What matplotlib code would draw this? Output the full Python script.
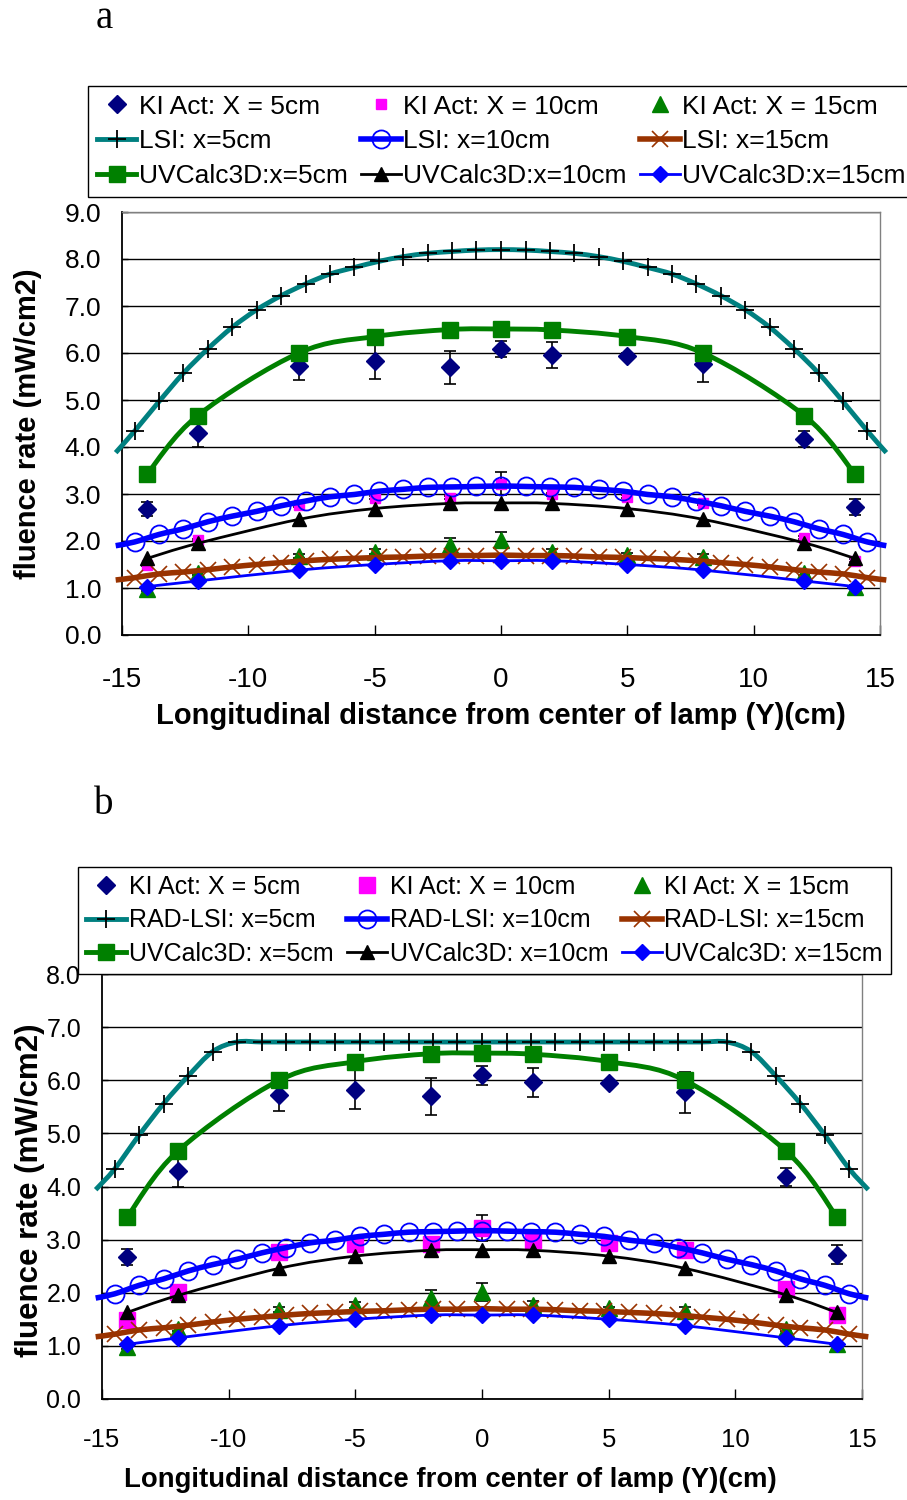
import matplotlib
matplotlib.use("Agg")
import matplotlib.pyplot as plt
from matplotlib.path import Path
from matplotlib.patches import PathPatch
from matplotlib.lines import Line2D
import numpy as np

plt.rcParams['font.family'] = ['Liberation Sans', 'DejaVu Sans']

# ---- data ----
# measured points (KI actinometry)
x_meas = [-14, -12, -8, -5, -2, 0, 2, 5, 8, 12, 14]
ki5 = [2.68, 4.30, 5.72, 5.82, 5.70, 6.09, 5.96, 5.94, 5.77, 4.18, 2.72]
ki5_err = [0.15, 0.30, 0.29, 0.37, 0.35, 0.17, 0.28, 0.05, 0.38, 0.17, 0.17]
ki10 = [1.49, 2.02, 2.76, 2.92, 2.92, 3.22, 2.99, 2.94, 2.80, 2.07, 1.58]
ki10_err = [0.03, 0.03, 0.03, 0.03, 0.03, 0.25, 0.03, 0.03, 0.03, 0.03, 0.03]
ki15 = [0.97, 1.31, 1.68, 1.77, 1.91, 2.02, 1.77, 1.71, 1.66, 1.31, 1.03]
ki15_err = [0.03, 0.03, 0.05, 0.05, 0.15, 0.17, 0.07, 0.03, 0.07, 0.03, 0.03]

# UVCalc3D model
uv5 = [3.43, 4.67, 6.00, 6.35, 6.50, 6.51, 6.49, 6.35, 6.00, 4.67, 3.43]
uv10 = [1.63, 1.95, 2.46, 2.69, 2.80, 2.81, 2.80, 2.69, 2.46, 1.96, 1.63]
uv15 = [1.03, 1.15, 1.38, 1.50, 1.58, 1.58, 1.58, 1.50, 1.38, 1.15, 1.03]

# LSI model: 31 marked points from -14.5 to 14.5 plus line ends at +-15.25
x_lsi = [-15.25, -14.5, -13.53, -12.57, -11.6, -10.63, -9.67, -8.7, -7.73, -6.77,
         -5.8, -4.83, -3.87, -2.9, -1.93, -0.97, 0.0, 0.97, 1.93, 2.9, 3.87,
         4.83, 5.8, 6.77, 7.73, 8.7, 9.67, 10.63, 11.6, 12.57, 13.53, 14.5, 15.25]
lsi5 = [3.88, 4.34, 4.97, 5.57, 6.09, 6.55, 6.92, 7.22, 7.47, 7.68, 7.82, 7.95, 8.05,
        8.12, 8.16, 8.19, 8.20, 8.19, 8.16, 8.12, 8.05, 7.95, 7.82, 7.68, 7.47,
        7.22, 6.92, 6.55, 6.09, 5.57, 4.97, 4.34, 3.88]
lsi10 = [1.90, 1.98, 2.14, 2.26, 2.41, 2.53, 2.63, 2.75, 2.85, 2.94, 2.99, 3.06, 3.10,
         3.14, 3.15, 3.16, 3.17, 3.16, 3.15, 3.14, 3.10, 3.06, 2.99, 2.94, 2.85,
         2.75, 2.63, 2.53, 2.41, 2.26, 2.14, 1.98, 1.90]
lsi15 = [1.17, 1.22, 1.30, 1.34, 1.39, 1.45, 1.50, 1.54, 1.58, 1.61, 1.63, 1.65, 1.66,
         1.68, 1.69, 1.69, 1.70, 1.69, 1.69, 1.68, 1.66, 1.65, 1.63, 1.61, 1.58,
         1.54, 1.50, 1.45, 1.39, 1.34, 1.30, 1.22, 1.17]
radlsi5 = [3.94, 4.33, 4.97, 5.56, 6.08, 6.54, 6.72, 6.72, 6.72, 6.72, 6.72, 6.72, 6.72,
           6.72, 6.72, 6.72, 6.72, 6.72, 6.72, 6.72, 6.72, 6.72, 6.72, 6.72, 6.72,
           6.72, 6.72, 6.54, 6.08, 5.56, 4.97, 4.33, 3.94]

xticks = [-15, -10, -5, 0, 5, 10, 15]


def smooth_path(x, y):
    # excel-like smoothed line (bezier through the points)
    n = len(x)
    verts = [(x[0], y[0])]
    codes = [Path.MOVETO]
    for i in range(n - 1):
        xa, ya = (x[i - 1], y[i - 1]) if i > 0 else (x[i], y[i])
        xb, yb = (x[i + 2], y[i + 2]) if i + 2 < n else (x[i + 1], y[i + 1])
        c1 = (x[i] + (x[i + 1] - xa) / 6.0, y[i] + (y[i + 1] - ya) / 6.0)
        c2 = (x[i + 1] - (xb - x[i]) / 6.0, y[i + 1] - (yb - y[i]) / 6.0)
        verts += [c1, c2, (x[i + 1], y[i + 1])]
        codes += [Path.CURVE4] * 3
    return Path(verts, codes)


def model(ax, x, y, color, lw, marker, mkw, z, ends=False):
    ax.add_patch(PathPatch(smooth_path(x, y), fill=False, edgecolor=color, lw=lw,
                           clip_on=False, zorder=z, capstyle='butt'))
    if ends:
        x, y = x[1:-1], y[1:-1]
    ax.plot(x, y, ls='none', marker=marker, clip_on=False, zorder=z + 0.1, **mkw)
    return Line2D([], [], color=color, lw=lw, marker=marker, **mkw)


def panel(ax, lsi_first, names, ki10_ms, ymax, tick_fs, xpad):
    h = {}
    # measured
    for yy, ee in [(ki5, ki5_err), (ki10, ki10_err), (ki15, ki15_err)]:
        ax.errorbar(x_meas, yy, yerr=ee, fmt='none', ecolor='black', elinewidth=1.2,
                    capsize=4, capthick=1.2, zorder=3)
    k5 = dict(marker='D', color='#000080', ms=9.5, ls='none', mec='#000080')
    k10 = dict(marker='s', color='#FF00FF', ms=ki10_ms, ls='none', mec='#FF00FF')
    k15 = dict(marker='^', color='#008000', ms=11, ls='none', mec='#008000')
    ax.plot(x_meas, ki5, zorder=3.2, **k5)
    ax.plot(x_meas, ki10, zorder=3.2, **k10)
    ax.plot(x_meas, ki15, zorder=3.2, **k15)
    h['k5'] = Line2D([], [], **k5)
    h['k10'] = Line2D([], [], **k10)
    h['k15'] = Line2D([], [], **k15)

    # LSI
    h['l5'] = model(ax, x_lsi, lsi_first, '#008080', 3.5, '+',
                    dict(ms=13, mec='black', mew=1.3), 4, ends=True)
    h['l10'] = model(ax, x_lsi, lsi10, '#0000FF', 4.0, 'o',
                     dict(ms=13, mec='#0000FF', mfc='none', mew=1.3), 4.2, ends=True)
    h['l15'] = model(ax, x_lsi, lsi15, '#993300', 4.0, 'x',
                     dict(ms=11, mec='#993300', mew=1.2), 4.4, ends=True)
    # UVCalc3D
    h['u5'] = model(ax, x_meas, uv5, '#008000', 3.5, 's',
                    dict(ms=12, mec='#008000', mfc='#008000'), 5)
    h['u10'] = model(ax, x_meas, uv10, 'black', 2.0, '^',
                     dict(ms=10.5, mec='black', mfc='black'), 5.2)
    h['u15'] = model(ax, x_meas, uv15, '#0000FF', 2.0, 'D',
                     dict(ms=8.5, mec='#0000FF', mfc='#0000FF'), 5.4)

    ax.set_xlim(-15, 15)
    ax.set_ylim(0, ymax)
    ax.set_xticks(xticks)
    ax.set_xticklabels([str(t) for t in xticks])
    ax.set_yticks(np.arange(0, ymax + 0.5, 1))
    ax.set_yticklabels(['%.1f' % v for v in np.arange(0, ymax + 0.5, 1)])
    ax.yaxis.grid(True, color='black', lw=1.0)
    ax.set_axisbelow(True)
    ax.tick_params(axis='x', direction='in', length=7, width=1, labelsize=tick_fs[0], pad=xpad)
    ax.tick_params(axis='y', direction='in', length=4, width=1, labelsize=tick_fs[1], pad=15)
    for s in ['left', 'bottom']:
        ax.spines[s].set_color('black')
        ax.spines[s].set_linewidth(1.3)
    for s in ['top', 'right']:
        ax.spines[s].set_color('#808080')
        ax.spines[s].set_linewidth(1.0)

    order = ['k5', 'l5', 'u5', 'k10', 'l10', 'u10', 'k15', 'l15', 'u15']
    return [h[k] for k in order], [names[k] for k in order]


W, H = 907, 1500
fig = plt.figure(figsize=(W / 100, H / 100), dpi=100)

ax_a = fig.add_axes([122 / W, 1 - 635 / H, 758 / W, 423 / H])
ax_b = fig.add_axes([102 / W, 1 - 1399 / H, 760 / W, 425 / H])

names_a = {'k5': 'KI Act: X = 5cm', 'k10': 'KI Act: X = 10cm', 'k15': 'KI Act: X = 15cm',
           'l5': 'LSI: x=5cm', 'l10': 'LSI: x=10cm', 'l15': 'LSI: x=15cm',
           'u5': 'UVCalc3D:x=5cm', 'u10': 'UVCalc3D:x=10cm', 'u15': 'UVCalc3D:x=15cm'}
names_b = {'k5': 'KI Act: X = 5cm', 'k10': 'KI Act: X = 10cm', 'k15': 'KI Act: X = 15cm',
           'l5': 'RAD-LSI: x=5cm', 'l10': 'RAD-LSI: x=10cm', 'l15': 'RAD-LSI: x=15cm',
           'u5': 'UVCalc3D: x=5cm', 'u10': 'UVCalc3D: x=10cm', 'u15': 'UVCalc3D: x=15cm'}

ha, la = panel(ax_a, lsi5, names_a, 7, 9, (20, 19), 23)
hb, lb = panel(ax_b, radlsi5, names_b, 11, 8, (18.5, 18), 21)

# handles, labels, upper-left corner px, fontsize, labelspacing, columnspacing, handlelength
legs = [(ha, la, (88, 86), 19, 0.4, 0.5, 1.5), (hb, lb, (78, 867), 18, 0.37, 0.55, 1.6)]
for hh, ll, (lx, ly), fs, lsp, csp, hl in legs:
    leg = fig.legend(hh, ll, ncol=3, loc='upper left', bbox_to_anchor=(lx / W, 1 - ly / H),
                     bbox_transform=fig.transFigure, fontsize=fs, frameon=True,
                     fancybox=False, edgecolor='black', framealpha=1, borderaxespad=0,
                     handlelength=hl, handletextpad=0.1, columnspacing=csp,
                     labelspacing=lsp, borderpad=0.33, numpoints=1)
    leg.get_frame().set_linewidth(1.0)

fig.text(501 / W, 1 - 716 / H, 'Longitudinal distance from center of lamp (Y)(cm)',
         ha='center', va='center', fontsize=21, fontweight='bold')
fig.text(450 / W, 1 - 1480 / H, 'Longitudinal distance from center of lamp (Y)(cm)',
         ha='center', va='center', fontsize=19.8, fontweight='bold')
fig.text(28 / W, 1 - 424 / H, 'fluence rate (mW/cm2)', ha='center', va='center',
         rotation=90, fontsize=21, fontweight='bold')
fig.text(30 / W, 1 - 1190 / H, 'fluence rate (mW/cm2)', ha='center', va='center',
         rotation=90, fontsize=22.5, fontweight='bold')
fig.text(104 / W, 1 - 18 / H, 'a', ha='center', va='center', fontsize=28,
         family='Liberation Serif')
fig.text(104 / W, 1 - 805 / H, 'b', ha='center', va='center', fontsize=28,
         family='Liberation Serif')

fig.savefig('out.png', dpi=100)
